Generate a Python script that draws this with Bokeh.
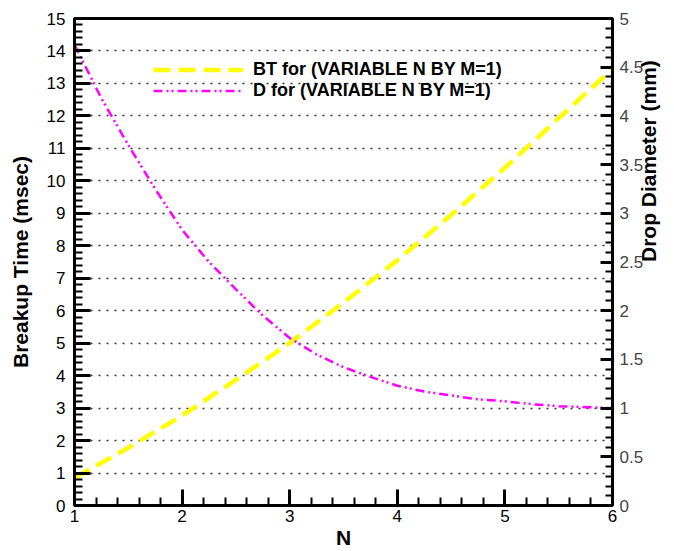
import math

from bokeh.plotting import figure
from bokeh.models import (Range1d, LinearAxis, SingleIntervalTicker, Legend, LegendItem,
                          CustomJSTickFormatter)
from bokeh.embed import file_html
from bokeh.resources import INLINE

# Breakup time (msec) against N, M = 1
n_bt = [1.0, 1.5, 2.0, 2.5, 3.0, 3.5, 4.0, 4.5, 5.0, 5.5, 6.0]
bt_msec = [0.85, 1.78, 2.77, 3.87, 5.0, 6.25, 7.55, 8.95, 10.4, 11.93, 13.45]

# Drop diameter (mm) against N, M = 1
n_d = [1.0, 1.25, 1.5, 1.75, 2.0, 2.25, 2.5, 2.75, 3.0, 3.25, 3.5, 3.75, 4.0,
       4.25, 4.5, 4.75, 5.0, 5.25, 5.5, 5.75, 6.0]
d_mm = [4.73, 4.18, 3.70, 3.25, 2.83, 2.50, 2.22, 1.95, 1.72, 1.55, 1.42, 1.32,
        1.23, 1.17, 1.13, 1.09, 1.07, 1.04, 1.02, 1.01, 1.00]

label_bt = "BT for (VARIABLE N BY M=1)"
label_d = "D for (VARIABLE N BY M=1)"

FONT = "Liberation Sans"

p = figure(width=674, height=551, x_range=Range1d(1, 6), y_range=Range1d(0, 15),
           output_backend="svg", toolbar_location=None,
           min_border_left=74, min_border_right=60, min_border_top=18,
           min_border_bottom=44, x_axis_label="N", y_axis_label="Breakup Time (msec)")
p.extra_y_ranges = {"dia": Range1d(0, 5)}

p.outline_line_color = "black"
p.outline_line_width = 3
p.background_fill_color = "white"
p.border_fill_color = "white"

# left and bottom axes: inward ticks
for ax in (p.yaxis[0], p.xaxis[0]):
    ax.ticker = SingleIntervalTicker(interval=1, num_minor_ticks=5)
    ax.axis_line_width = 3
    ax.axis_line_color = "black"
    ax.major_tick_in = 16
    ax.major_tick_out = 0
    ax.minor_tick_in = 8
    ax.minor_tick_out = 0
    ax.major_tick_line_width = 3
    ax.minor_tick_line_width = 2
    ax.major_label_text_font = FONT
    ax.major_label_text_font_size = "17px"
    ax.major_label_text_color = "black"
    ax.axis_label_text_font = FONT
    ax.axis_label_text_font_size = "21px"
    ax.axis_label_text_font_style = "bold"
    ax.axis_label_text_color = "black"

p.yaxis[0].major_label_standoff = 9
p.yaxis[0].axis_label_standoff = 12
p.xaxis[0].major_label_standoff = 4
p.xaxis[0].axis_label_standoff = 1

# right axis for drop diameter
rax = LinearAxis(y_range_name="dia", axis_label="Drop Diameter (mm)",
                 ticker=SingleIntervalTicker(interval=0.5, num_minor_ticks=5),
                 formatter=CustomJSTickFormatter(code="return String(Math.round(tick*10)/10)"))
rax.axis_line_width = 3
rax.major_tick_in = 12
rax.major_tick_out = 0
rax.minor_tick_in = 7
rax.minor_tick_out = 0
rax.major_tick_line_width = 3
rax.minor_tick_line_width = 2
rax.major_label_text_font = FONT
rax.major_label_text_font_size = "17px"
rax.major_label_standoff = 7
rax.axis_label_text_font = FONT
rax.axis_label_text_font_size = "21px"
rax.axis_label_text_font_style = "bold"
rax.axis_label_text_color = "black"
rax.axis_label_standoff = 2
# title reads bottom to top, like the left one
rax.axis_label_orientation = math.pi / 2
p.add_layout(rax, "right")

# dotted horizontal grid only
p.xgrid.visible = False
p.ygrid.ticker = SingleIntervalTicker(interval=1)
p.ygrid.grid_line_color = "black"
p.ygrid.grid_line_dash = "2 6"
p.ygrid.grid_line_width = 1.5
p.ygrid.grid_line_alpha = 0.8

bt_line = p.line(n_bt, bt_msec, line_color="#FFFF00", line_width=4.5, line_dash="17 8")
d_line = p.line(n_d, d_mm, y_range_name="dia", line_color="#FF00FF", line_width=2.5,
                line_dash="9 4 2 3 2 4")

legend = Legend(items=[LegendItem(label=label_bt, renderers=[bt_line]),
                       LegendItem(label=label_d, renderers=[d_line])],
                location=(79, 404), orientation="vertical")
legend.border_line_color = None
legend.background_fill_alpha = 0
legend.padding = 0
legend.margin = 0
legend.spacing = 0
legend.glyph_width = 90
legend.glyph_height = 19
legend.label_height = 19
legend.label_standoff = 10
legend.label_text_font = FONT
legend.label_text_font_size = "18px"
legend.label_text_font_style = "bold"
legend.label_text_color = "black"
p.add_layout(legend, "center")

open("out.html", "w").write(file_html(p, INLINE))
